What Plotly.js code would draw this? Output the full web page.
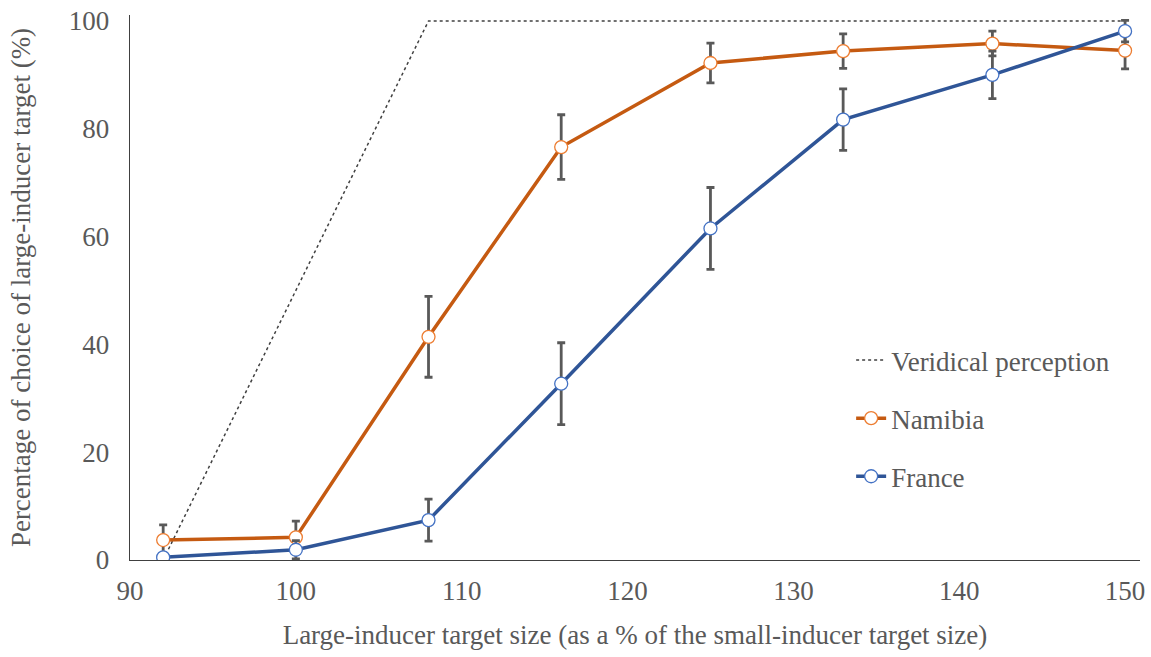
<!DOCTYPE html>
<html>
<head>
<meta charset="utf-8">
<script src="https://cdn.plot.ly/plotly-3.0.1.min.js"></script>
<style>html,body{margin:0;padding:0;background:#fff;}#chart{width:1151px;height:657px;}</style>
</head>
<body>
<div id="chart"></div>
<script>
const sizes = [92, 100, 108, 116, 125, 133, 142, 150];
const namibia = [3.7, 4.2, 41.4, 76.6, 92.2, 94.4, 95.8, 94.5];
const namibiaErr = [2.8, 3.0, 7.5, 6.0, 3.7, 3.2, 2.3, 3.4];
const france = [0.5, 1.9, 7.4, 32.7, 61.5, 81.7, 90.0, 98.1];
const franceErr = [0.5, 1.7, 3.9, 7.6, 7.6, 5.7, 4.4, 2.0];
const veridicalX = [92, 108, 150];
const veridicalY = [0, 100, 100];
const xTicks = [90, 100, 110, 120, 130, 140, 150];
const yTicks = [0, 20, 40, 60, 80, 100];

const font = 'Liberation Serif';
const grey = '#595959';

const traces = [
  {
    x: veridicalX, y: veridicalY, mode: 'lines', name: 'Veridical perception',
    line: {color: '#404040', width: 1.5, dash: 'dot'}, legendgroup: 'a'
  },
  {
    x: sizes, y: namibia, mode: 'lines+markers', name: 'Namibia', legendgroup: 'b',
    line: {color: '#C55A11', width: 3.5},
    marker: {symbol: 'circle', size: 13, color: '#ffffff', line: {color: '#ED7D31', width: 1.3}},
    error_y: {type: 'data', array: namibiaErr, visible: true, color: '#595959', thickness: 2.8, width: 4}
  },
  {
    x: sizes, y: france, mode: 'lines+markers', name: 'France', legendgroup: 'c',
    line: {color: '#2F5597', width: 3.5},
    marker: {symbol: 'circle', size: 13, color: '#ffffff', line: {color: '#4472C4', width: 1.3}},
    error_y: {type: 'data', array: franceErr, visible: true, color: '#595959', thickness: 2.8, width: 4}
  }
];

const layout = {
  width: 1151, height: 657,
  margin: {l: 130, r: 11, t: 15, b: 97},
  paper_bgcolor: '#ffffff', plot_bgcolor: '#ffffff',
  font: {family: font, color: grey, size: 27},
  showlegend: true,
  legend: {
    x: 0.714, y: 0.411, xanchor: 'left', yanchor: 'top',
    font: {family: font, size: 27, color: grey},
    tracegroupgap: 20, bgcolor: 'rgba(0,0,0,0)'
  },
  xaxis: {
    range: [90, 150.9], tickvals: xTicks, ticktext: xTicks.map(String),
    showgrid: false, zeroline: false, showline: true, linecolor: '#404040', linewidth: 1.3,
    ticks: '', tickfont: {family: font, size: 27, color: grey}, ticklabelstandoff: 6,
    title: {text: 'Large-inducer target size (as a % of the small-inducer target size)', font: {family: font, size: 27, color: grey}, standoff: 20}
  },
  yaxis: {
    range: [0, 101.1], tickvals: yTicks, ticktext: yTicks.map(String),
    showgrid: false, zeroline: false, showline: true, linecolor: '#404040', linewidth: 1.3,
    ticks: '', tickfont: {family: font, size: 27, color: grey}, ticklabelstandoff: 14,
    title: {text: 'Percentage of choice of large-inducer target (%)', font: {family: font, size: 27, color: grey}, standoff: 30}
  }
};

Plotly.newPlot('chart', traces, layout, {displayModeBar: false, staticPlot: true});
</script>
</body>
</html>
